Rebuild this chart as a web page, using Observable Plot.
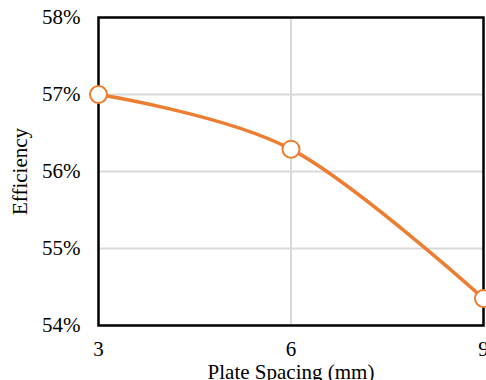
<!DOCTYPE html>
<html>
<head>
<meta charset="utf-8">
<script src="https://cdn.jsdelivr.net/npm/d3@7"></script>
<script src="https://cdn.jsdelivr.net/npm/@observablehq/plot@0.6"></script>
<style>
  html, body { margin: 0; padding: 0; background: #fff; }
  #chart svg { display: block; }
  #chart svg text { font-family: 'Liberation Serif', 'Times New Roman', serif !important; font-variant: normal !important; }
</style>
</head>
<body>
<div id="chart"></div>
<script>
const spacing = [3, 6, 9];
const efficiency = [0.570, 0.5629, 0.5435];
const xTicks = [3, 6, 9];
const yTicks = [0.54, 0.55, 0.56, 0.57, 0.58];

const data = spacing.map((s, i) => ({spacing: s, eff: efficiency[i]}));
const serif = "'Liberation Serif', 'Times New Roman', serif";

const chart = Plot.plot({
  width: 486,
  height: 380,
  marginLeft: 98,
  marginRight: 3,
  marginTop: 17,
  marginBottom: 55,
  style: {fontFamily: serif, fontSize: "21px", color: "#000", background: "#fff"},
  x: {domain: [3, 9]},
  y: {domain: [0.54, 0.58]},
  marks: [
    Plot.ruleY(yTicks.slice(1, -1), {stroke: "#d9d9d9", strokeWidth: 2}),
    Plot.ruleX(xTicks.slice(1, -1), {stroke: "#d9d9d9", strokeWidth: 2}),
    Plot.axisX({ticks: xTicks, tickSize: 0, tickPadding: 16, tickFormat: d3.format("d"), fontFamily: serif, fontSize: 21, label: "Plate Spacing (mm)", labelArrow: "none", labelAnchor: "center", labelOffset: 53}),
    Plot.axisY({ticks: yTicks, tickSize: 0, tickPadding: 18, tickFormat: d3.format(".0%"), fontFamily: serif, fontSize: 21, label: "Efficiency", labelArrow: "none", labelAnchor: "center", labelOffset: 86}),
    Plot.frame({stroke: "#000", strokeWidth: 2.5}),
    Plot.line(data, {x: "spacing", y: "eff", stroke: "#ED7D31", strokeWidth: 3.5, curve: d3.curveCardinal.tension(0)}),
    Plot.dot(data, {x: "spacing", y: "eff", r: 8.5, fill: "#fff", stroke: "#ED7D31", strokeWidth: 2})
  ]
});
document.getElementById("chart").appendChild(chart);
</script>
</body>
</html>
